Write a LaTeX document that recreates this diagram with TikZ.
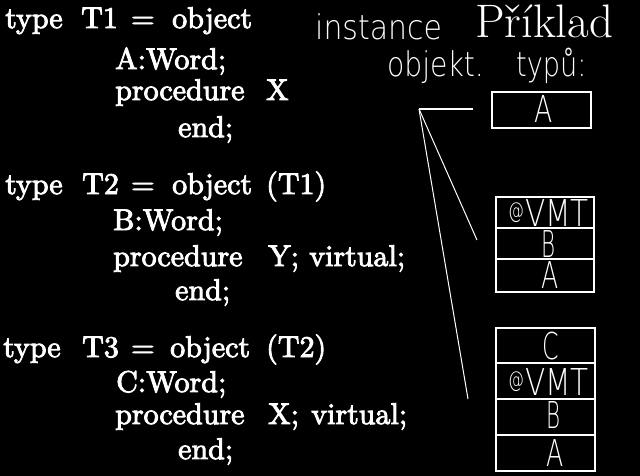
\documentclass[tikz,border=0pt]{standalone}
\usepackage{fontspec}
\usepackage{graphicx}
\IfFontExistsTF{DejaVu Sans ExtraLight}{\newfontfamily\thinfont{DejaVu Sans ExtraLight}}{\newfontfamily\thinfont{DejaVu Sans}}
\IfFontExistsTF{lmroman10-regular.otf}{\newfontfamily\codefont{lmroman10-regular.otf}[FakeBold=3]}{\newcommand\codefont{\rmfamily}}
\newcommand\vmtlabel{\raisebox{0.2em}{\scalebox{0.43}[0.6]{@}}\hspace{1pt}\scalebox{0.8}[1]{VMT}}
\begin{document}
\begin{tikzpicture}[x=1pt,y=-1pt,
  code/.style={font=\codefont\fontsize{30}{30}\selectfont, text=white, anchor=base west, inner sep=0pt},
  title/.style={font=\fontsize{47}{47}\selectfont, text=white, anchor=base west, inner sep=0pt},
  thin/.style={font=\thinfont\fontsize{34}{34}\selectfont, text=white, anchor=base west, inner sep=0pt},
  cellfont/.style={font=\thinfont\fontsize{37}{37}\selectfont, text=white, anchor=base, inner sep=0pt},
  cell/.style={draw=white, line width=2pt, inner sep=0pt},
  link/.style={draw=white, line width=1pt}]
\fill[black] (0,0) rectangle (640,476);
\useasboundingbox (0,0) rectangle (640,476);
% ---- T1
\node[code] (l1a) at (5,28) {type};
\node[code] (l1b) at (81,28) {T1};
\node[code] (l1c) at (131,28) {=};
\node[code] (l1d) at (172,28) {object};
\node[code] (l2a) at (115,69) {A:Word;};
\node[code] (l3a) at (115,100) {procedure};
\node[code] (l3b) at (266,100) {X};
\node[code] (l4a) at (178,137) {end;};
% ---- T2
\node[code] (l5a) at (5,194) {type};
\node[code] (l5b) at (82,194) {T2};
\node[code] (l5c) at (131,194) {=};
\node[code] (l5d) at (172,194) {object};
\node[code] (l5e) at (266,194) {(T1)};
\node[code] (l6a) at (113,230) {B:Word;};
\node[code] (l7a) at (113,266) {procedure};
\node[code] (l7b) at (268,266) {Y;};
\node[code] (l7c) at (309,266) {virtual;};
\node[code] (l8a) at (175,300) {end;};
% ---- T3
\node[code] (l9a) at (3,357) {type};
\node[code] (l9b) at (82,357) {T3};
\node[code] (l9c) at (131,357) {=};
\node[code] (l9d) at (170,357) {object};
\node[code] (l9e) at (266,357) {(T2)};
\node[code] (l10a) at (116,392) {C:Word;};
\node[code] (l11a) at (115,424) {procedure};
\node[code] (l11b) at (268,424) {X;};
\node[code] (l11c) at (311,424) {virtual;};
\node[code] (l12a) at (178,459) {end;};
% ---- headings
\node[thin] (inst) at (315,40) {\scalebox{0.88}[1]{instance}};
\node[title] (prik) at (475,38) {Příklad};
\node[thin] (obj1) at (387,77) {\scalebox{0.83}[1]{objekt.}};
\node[thin] (obj2) at (516,77) {\scalebox{0.8}[1]{typů:}};
% ---- box T1
\node[cell, minimum width=99pt, minimum height=36pt] (b1) at (541.5,110) {};
\node[cellfont] (b1t) at (544,123) {\scalebox{0.72}[1]{A}};
% ---- box T2
\node[cell, minimum width=98pt, minimum height=31pt] (b2r1) at (545,212.5) {};
\node[cell, minimum width=98pt, minimum height=31pt] (b2r2) at (545,243.5) {};
\node[cell, minimum width=98pt, minimum height=33pt] (b2r3) at (545,275.5) {};
\node[cellfont, anchor=base west] (b2t1) at (508,226) {\vmtlabel};
\node[cellfont] (b2t2) at (548.5,257) {\scalebox{0.58}[1]{B}};
\node[cellfont] (b2t3) at (550,288) {\scalebox{0.68}[1]{A}};
% ---- box T3
\node[cell, minimum width=99pt, minimum height=35pt] (b3r1) at (545.5,345.5) {};
\node[cell, minimum width=99pt, minimum height=36pt] (b3r2) at (545.5,381) {};
\node[cell, minimum width=99pt, minimum height=36pt] (b3r3) at (545.5,417) {};
\node[cell, minimum width=99pt, minimum height=36pt] (b3r4) at (545.5,453) {};
\node[cellfont] (b3t1) at (550.5,359) {\scalebox{0.64}[1]{C}};
\node[cellfont, anchor=base west] (b3t2) at (508,395) {\vmtlabel};
\node[cellfont] (b3t3) at (554,428) {\scalebox{0.58}[1]{B}};
\node[cellfont] (b3t4) at (555,466) {\scalebox{0.68}[1]{A}};
% ---- pointer lines
\coordinate (hub) at (419,109);
\coordinate (e1) at (473,109);
\coordinate (e2) at (477,240);
\coordinate (e3) at (468,399);
\draw[link, line width=2pt] (hub) -- (e1);
\draw[link] (hub) -- (e2);
\draw[link] (hub) -- (e3);
\end{tikzpicture}
\end{document}
